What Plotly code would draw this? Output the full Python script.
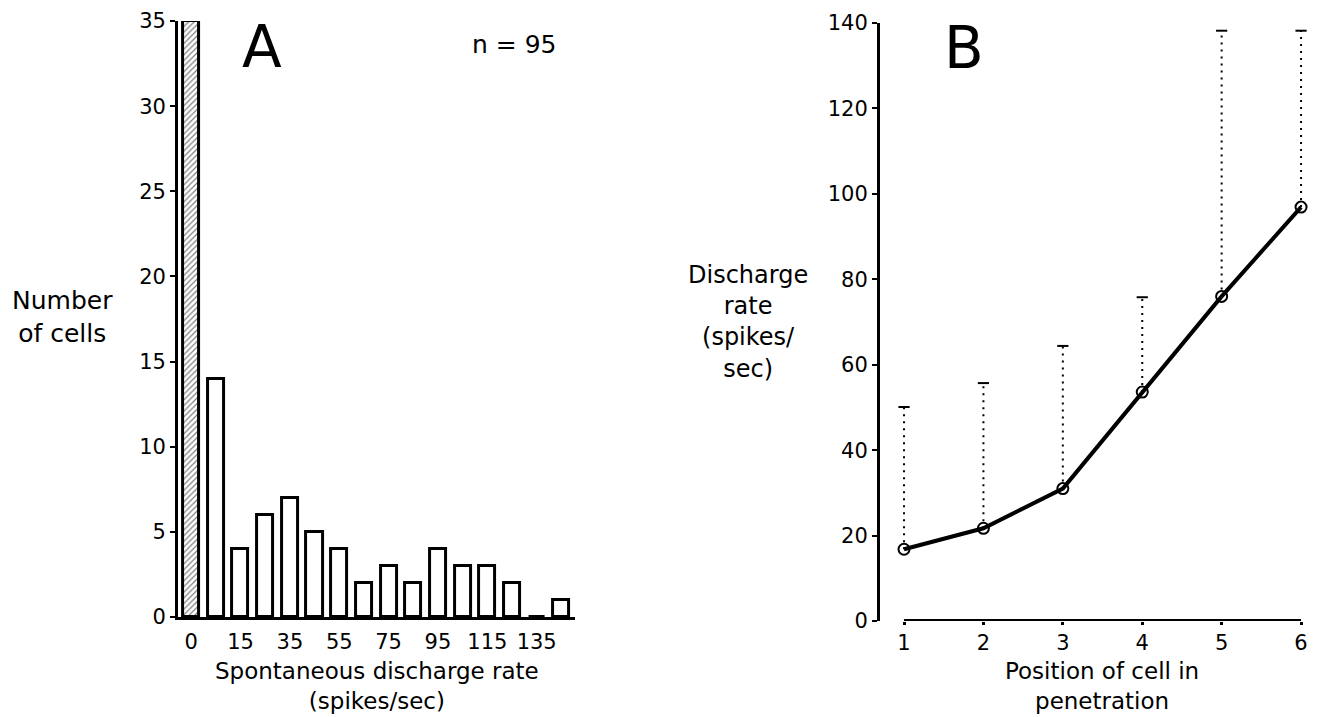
import plotly.graph_objects as go

# ---------------- Panel A data ----------------
bin_index = list(range(16))
cell_counts = [35, 14, 4, 6, 7, 5, 4, 2, 3, 2, 4, 3, 3, 2, 0, 1]
rate_tick_pos = [0, 2, 4, 6, 8, 10, 12, 14]
rate_tick_labels = ["0", "15", "35", "55", "75", "95", "115", "135"]
n_cells_label = "n = 95"

# ---------------- Panel B data ----------------
positions = [1, 2, 3, 4, 5, 6]
mean_rate = [16.8, 21.7, 31.0, 53.6, 76.0, 96.9]
upper_rate = [50.1, 55.7, 64.4, 75.8, 138.2, 138.2]

FONT = "DejaVu Sans"
BLACK = "#000000"

fig = go.Figure()

# Panel A bars
fig.add_trace(go.Bar(
    x=bin_index[:1], y=cell_counts[:1], width=0.65,
    marker=dict(color="white",
                line=dict(color=BLACK, width=3),
                pattern=dict(shape="/", size=4, solidity=0.3,
                             fgcolor=BLACK, bgcolor="white")),
    xaxis="x", yaxis="y", showlegend=False))
fig.add_trace(go.Bar(
    x=bin_index[1:], y=cell_counts[1:], width=0.65,
    marker=dict(color="white", line=dict(color=BLACK, width=3)),
    xaxis="x", yaxis="y", showlegend=False))

# Panel B dotted upper error lines
ex, ey = [], []
for p, m, u in zip(positions, mean_rate, upper_rate):
    ex += [p, p, None]
    ey += [m, u, None]
fig.add_trace(go.Scatter(
    x=ex, y=ey, mode="lines",
    line=dict(color=BLACK, width=2, dash="2px,5px"),
    xaxis="x2", yaxis="y2", showlegend=False))
fig.add_trace(go.Scatter(
    x=positions, y=upper_rate, mode="markers",
    marker=dict(symbol="line-ew", size=8, line=dict(color=BLACK, width=2)),
    xaxis="x2", yaxis="y2", showlegend=False))
fig.add_trace(go.Scatter(
    x=positions, y=mean_rate, mode="lines+markers",
    line=dict(color=BLACK, width=4),
    marker=dict(symbol="circle-open", size=11, color=BLACK,
                line=dict(color=BLACK, width=2)),
    xaxis="x2", yaxis="y2", showlegend=False))

# x-axis baseline of panel B spans positions
fig.add_shape(type="line", xref="x2", yref="y2",
              x0=positions[0], x1=positions[-1], y0=0, y1=0,
              line=dict(color=BLACK, width=4))

tickfont = dict(family=FONT, size=21, color=BLACK)

fig.update_layout(
    width=1319, height=717,
    margin=dict(l=0, r=0, t=0, b=0, autoexpand=False),
    paper_bgcolor="white", plot_bgcolor="white",
    showlegend=False,
    bargap=0,
    font=dict(family=FONT, color=BLACK),
    xaxis=dict(domain=[0.1350, 0.4359], range=[-0.53, 15.55],
               tickmode="array", tickvals=rate_tick_pos, ticktext=rate_tick_labels,
               ticks="", showline=True, linecolor=BLACK, linewidth=3,
               showgrid=False, zeroline=False, tickfont=tickfont,
               ticklabelstandoff=4, anchor="y", automargin=False),
    yaxis=dict(domain=[0.1395, 0.9707], range=[0, 35], dtick=5,
               ticks="outside", ticklen=5, tickwidth=2, tickcolor=BLACK,
               showline=True, linecolor=BLACK, linewidth=3,
               showgrid=False, zeroline=False, tickfont=tickfont,
               ticklabelstandoff=0, anchor="x", automargin=False),
    xaxis2=dict(domain=[0.6672, 0.9932], range=[0.698, 6.113],
                tickmode="array", tickvals=positions,
                ticks="outside", ticklen=3, tickwidth=3, tickcolor=BLACK,
                showline=False, showgrid=False, zeroline=False,
                tickfont=tickfont, ticklabelstandoff=0, anchor="y2",
                automargin=False),
    yaxis2=dict(domain=[0.1339, 0.9679], range=[0, 140], dtick=20,
                ticks="outside", ticklen=5, tickwidth=2, tickcolor=BLACK,
                showline=True, linecolor=BLACK, linewidth=3,
                showgrid=False, zeroline=False, tickfont=tickfont,
                ticklabelstandoff=0, anchor="x2", automargin=False),
)

def ann(text, x, y, size):
    fig.add_annotation(text=text, x=x, y=y, xref="paper", yref="paper",
                       xanchor="center", yanchor="middle", align="center",
                       showarrow=False,
                       font=dict(family=FONT, size=size, color=BLACK))

W, H = 1319.0, 717.0
ann("A", 262 / W, 1 - 47 / H, 58)
ann(n_cells_label, 514 / W, 1 - 44 / H, 25)
ann("B", 964 / W, 1 - 48 / H, 58)
ann("Number<br>of cells", 62 / W, 1 - 317 / H, 25)
ann("Spontaneous discharge rate<br>(spikes/sec)", 377 / W, 1 - 686 / H, 23)
ann("Discharge<br>rate<br>(spikes/<br>sec)", 748 / W, 1 - 322 / H, 24)
ann("Position of cell in<br>penetration", 1102 / W, 1 - 686 / H, 23)

fig.write_html("out.html")
